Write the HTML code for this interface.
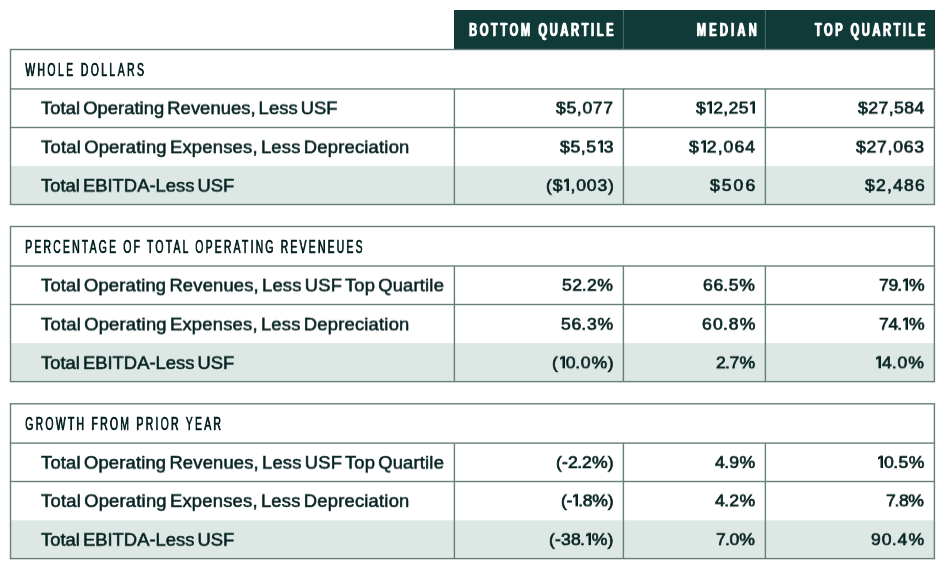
<!DOCTYPE html>
<html><head><meta charset="utf-8"><style>
html,body{margin:0;padding:0;background:#fff;width:945px;height:570px;overflow:hidden}
body{position:relative;font-family:"Liberation Sans",sans-serif;color:#062221}
div{position:absolute;white-space:nowrap}
.lab{font-size:17.5px;line-height:18px;transform-origin:0 9px;letter-spacing:0px;word-spacing:-2px;-webkit-text-stroke:0.55px currentColor}
.num{font-size:17.6px;line-height:18px;transform-origin:100% 9px;margin-top:1px;-webkit-text-stroke:0.7px currentColor}
.sh{font-size:19px;line-height:18px;transform-origin:0 0;transform:scaleX(0.55);letter-spacing:4.3px;-webkit-text-stroke:0.35px currentColor;text-shadow:0.9px 0 0 currentColor}
.ch{color:#fff;font-size:17.5px;line-height:18px;font-weight:700;transform-origin:100% 0;transform:scaleX(0.64);letter-spacing:4px;margin-right:-4px;-webkit-text-stroke:0.4px #fff;text-shadow:1.3px 0 0 #fff}
.one{display:inline-block;vertical-align:-0.3px;margin:0 1px 0 1px}
.d{margin:0 -0.2px 0 -0.9px}
.lab,.num,.sh,.ch{will-change:transform}
</style></head><body>
<svg width="945" height="570" style="position:absolute;left:0;top:0"><rect x="454" y="10" width="481" height="39" fill="#0f3a38"/><rect x="622.9" y="10" width="1.0" height="39" fill="#4d6f6c"/><rect x="764.9" y="10" width="1.0" height="39" fill="#4d6f6c"/><rect x="10.5" y="166.0" width="923.9" height="38.5" fill="#dde8e4"/><rect x="9.8" y="48.8" width="925.3" height="1.4" fill="#667f7d"/><rect x="9.8" y="88.25" width="925.3" height="1.4" fill="#667f7d"/><rect x="9.8" y="126.8" width="925.3" height="1.4" fill="#667f7d"/><rect x="9.8" y="203.8" width="925.3" height="1.4" fill="#667f7d"/><rect x="9.8" y="49.5" width="1.4" height="155.0" fill="#667f7d"/><rect x="933.7" y="49.5" width="1.4" height="155.0" fill="#667f7d"/><rect x="453.7" y="88.95" width="1.4" height="115.55" fill="#667f7d"/><rect x="622.7" y="88.95" width="1.4" height="115.55" fill="#667f7d"/><rect x="764.7" y="88.95" width="1.4" height="115.55" fill="#667f7d"/><rect x="10.5" y="343.1" width="923.9" height="38.5" fill="#dde8e4"/><rect x="9.8" y="225.8" width="925.3" height="1.4" fill="#667f7d"/><rect x="9.8" y="265.3" width="925.3" height="1.4" fill="#667f7d"/><rect x="9.8" y="303.8" width="925.3" height="1.4" fill="#667f7d"/><rect x="9.8" y="380.9" width="925.3" height="1.4" fill="#667f7d"/><rect x="9.8" y="226.5" width="1.4" height="155.1" fill="#667f7d"/><rect x="933.7" y="226.5" width="1.4" height="155.1" fill="#667f7d"/><rect x="453.7" y="266.0" width="1.4" height="115.6" fill="#667f7d"/><rect x="622.7" y="266.0" width="1.4" height="115.6" fill="#667f7d"/><rect x="764.7" y="266.0" width="1.4" height="115.6" fill="#667f7d"/><rect x="10.5" y="520.3" width="923.9" height="38.3" fill="#dde8e4"/><rect x="9.8" y="403.1" width="925.3" height="1.4" fill="#667f7d"/><rect x="9.8" y="442.4" width="925.3" height="1.4" fill="#667f7d"/><rect x="9.8" y="480.8" width="925.3" height="1.4" fill="#667f7d"/><rect x="9.8" y="557.9" width="925.3" height="1.4" fill="#667f7d"/><rect x="9.8" y="403.8" width="1.4" height="154.8" fill="#667f7d"/><rect x="933.7" y="403.8" width="1.4" height="154.8" fill="#667f7d"/><rect x="453.7" y="443.1" width="1.4" height="115.5" fill="#667f7d"/><rect x="622.7" y="443.1" width="1.4" height="115.5" fill="#667f7d"/><rect x="764.7" y="443.1" width="1.4" height="115.5" fill="#667f7d"/></svg>
<div class="ch" style="right:332.5px;top:21px;letter-spacing:4.0px;margin-right:-3.0px">BOTTOM QUARTILE</div>
<div class="ch" style="right:190.5px;top:21px;letter-spacing:4.9px;margin-right:-5.4px">MEDIAN</div>
<div class="ch" style="right:21.5px;top:21px;letter-spacing:3.9px;margin-right:-3.6px">TOP QUARTILE</div>
<div class="sh" style="left:24.8px;top:61px;letter-spacing:4.356px">WHOLE DOLLARS</div>
<div class="lab" style="left:41px;top:98.8px;transform:translateY(0.3px) scale(1.05,0.965);letter-spacing:0.044px">Total Operating Revenues, Less USF</div>
<div class="num" style="right:331.5px;top:98.8px;transform:translateY(-0.95px) scaleY(0.91);letter-spacing:0.64px;margin-right:-0.64px">$5,077</div>
<div class="num" style="right:189.5px;top:98.8px;transform:translateY(-0.95px) scaleY(0.91);letter-spacing:0.38px;margin-right:-0.38px">$<svg class="one" width="5" height="14" viewBox="0 0 5 14"><path d="M2.5 0.4H5V14H2.5V3.2L0 4.8V2.3L2.3 0.4Z" fill="currentColor"/></svg>2,25<svg class="one" width="5" height="14" viewBox="0 0 5 14"><path d="M2.5 0.4H5V14H2.5V3.2L0 4.8V2.3L2.3 0.4Z" fill="currentColor"/></svg></div>
<div class="num" style="right:20.5px;top:98.8px;transform:translateY(-0.95px) scaleY(0.91);letter-spacing:0.45px;margin-right:-0.45px">$27,584</div>
<div class="lab" style="left:41px;top:137.8px;transform:translateY(0.3px) scale(1.05,0.965);letter-spacing:0.203px">Total Operating Expenses, Less Depreciation</div>
<div class="num" style="right:331.5px;top:137.8px;transform:translateY(-0.95px) scaleY(0.91);letter-spacing:0.6px;margin-right:-0.6px">$5,5<svg class="one" width="5" height="14" viewBox="0 0 5 14"><path d="M2.5 0.4H5V14H2.5V3.2L0 4.8V2.3L2.3 0.4Z" fill="currentColor"/></svg>3</div>
<div class="num" style="right:189.5px;top:137.8px;transform:translateY(-0.95px) scaleY(0.91);letter-spacing:1.05px;margin-right:-1.05px">$<svg class="one" width="5" height="14" viewBox="0 0 5 14"><path d="M2.5 0.4H5V14H2.5V3.2L0 4.8V2.3L2.3 0.4Z" fill="currentColor"/></svg>2,064</div>
<div class="num" style="right:20.5px;top:137.8px;transform:translateY(-0.95px) scaleY(0.91);letter-spacing:0.75px;margin-right:-0.75px">$27,063</div>
<div class="lab" style="left:41px;top:176.8px;transform:translateY(-0.2px) scale(1.05,0.965);letter-spacing:0.013px">Total EBITDA-Less USF</div>
<div class="num" style="right:331.5px;top:176.8px;transform:translateY(-1.45px) scaleY(0.91);letter-spacing:0.87px;margin-right:-0.87px">($<svg class="one" width="5" height="14" viewBox="0 0 5 14"><path d="M2.5 0.4H5V14H2.5V3.2L0 4.8V2.3L2.3 0.4Z" fill="currentColor"/></svg>,003)</div>
<div class="num" style="right:189.5px;top:176.8px;transform:translateY(-1.45px) scaleY(0.91);letter-spacing:2.01px;margin-right:-2.01px">$506</div>
<div class="num" style="right:20.5px;top:176.8px;transform:translateY(-1.45px) scaleY(0.91);letter-spacing:1.2px;margin-right:-1.2px">$2,486</div>
<div class="sh" style="left:24.8px;top:238px;letter-spacing:3.953px">PERCENTAGE OF TOTAL OPERATING REVENEUES</div>
<div class="lab" style="left:41px;top:275.8px;transform:translateY(0.5px) scale(1.05,0.965);letter-spacing:0.17px">Total Operating Revenues, Less USF Top Quartile</div>
<div class="num" style="right:331.5px;top:275.8px;transform:translateY(-0.75px) scaleY(0.91);letter-spacing:0.5px;margin-right:0.5px">52<span class="d">.</span>2%</div>
<div class="num" style="right:189.5px;top:275.8px;transform:translateY(-0.75px) scaleY(0.91);letter-spacing:0.75px;margin-right:0.25px">66<span class="d">.</span>5%</div>
<div class="num" style="right:20.5px;top:275.8px;transform:translateY(-0.75px) scaleY(0.91);letter-spacing:-0.16px;margin-right:0.16px">79<span class="d">.</span><svg class="one" width="5" height="14" viewBox="0 0 5 14"><path d="M2.5 0.4H5V14H2.5V3.2L0 4.8V2.3L2.3 0.4Z" fill="currentColor"/></svg>%</div>
<div class="lab" style="left:41px;top:314.8px;transform:translateY(0.5px) scale(1.05,0.965);letter-spacing:0.203px">Total Operating Expenses, Less Depreciation</div>
<div class="num" style="right:331.5px;top:314.8px;transform:translateY(-0.75px) scaleY(0.91);letter-spacing:0.84px;margin-right:-0.84px">56<span class="d">.</span>3%</div>
<div class="num" style="right:189.5px;top:314.8px;transform:translateY(-0.75px) scaleY(0.91);letter-spacing:1.15px;margin-right:-1.15px">60<span class="d">.</span>8%</div>
<div class="num" style="right:20.5px;top:314.8px;transform:translateY(-0.75px) scaleY(0.91);letter-spacing:-0.16px;margin-right:0.16px">74<span class="d">.</span><svg class="one" width="5" height="14" viewBox="0 0 5 14"><path d="M2.5 0.4H5V14H2.5V3.2L0 4.8V2.3L2.3 0.4Z" fill="currentColor"/></svg>%</div>
<div class="lab" style="left:41px;top:353.8px;transform:translateY(0.1px) scale(1.05,0.965);letter-spacing:0.013px">Total EBITDA-Less USF</div>
<div class="num" style="right:331.5px;top:353.8px;transform:translateY(-1.15px) scaleY(0.91);letter-spacing:0.78px;margin-right:-0.78px">(<svg class="one" width="5" height="14" viewBox="0 0 5 14"><path d="M2.5 0.4H5V14H2.5V3.2L0 4.8V2.3L2.3 0.4Z" fill="currentColor"/></svg>0<span class="d">.</span>0%)</div>
<div class="num" style="right:189.5px;top:353.8px;transform:translateY(-1.15px) scaleY(0.91);letter-spacing:0.0px;margin-right:0.0px">2<span class="d">.</span>7%</div>
<div class="num" style="right:20.5px;top:353.8px;transform:translateY(-1.15px) scaleY(0.91);letter-spacing:0.91px;margin-right:0.09px"><svg class="one" width="5" height="14" viewBox="0 0 5 14"><path d="M2.5 0.4H5V14H2.5V3.2L0 4.8V2.3L2.3 0.4Z" fill="currentColor"/></svg>4<span class="d">.</span>0%</div>
<div class="sh" style="left:24.8px;top:415px;letter-spacing:4.101px">GROWTH FROM PRIOR YEAR</div>
<div class="lab" style="left:41px;top:453.8px;transform:translateY(-0.2px) scale(1.05,0.965);letter-spacing:0.17px">Total Operating Revenues, Less USF Top Quartile</div>
<div class="num" style="right:331.5px;top:453.8px;transform:translateY(-1.45px) scaleY(0.91);letter-spacing:0.18px;margin-right:-0.18px">(-2<span class="d">.</span>2%)</div>
<div class="num" style="right:189.5px;top:453.8px;transform:translateY(-1.45px) scaleY(0.91);letter-spacing:0.37px;margin-right:-0.37px">4<span class="d">.</span>9%</div>
<div class="num" style="right:20.5px;top:453.8px;transform:translateY(-1.45px) scaleY(0.91);letter-spacing:0.45px;margin-right:-0.45px"><svg class="one" width="5" height="14" viewBox="0 0 5 14"><path d="M2.5 0.4H5V14H2.5V3.2L0 4.8V2.3L2.3 0.4Z" fill="currentColor"/></svg>0<span class="d">.</span>5%</div>
<div class="lab" style="left:41px;top:491.8px;transform:translateY(0.1px) scale(1.05,0.965);letter-spacing:0.203px">Total Operating Expenses, Less Depreciation</div>
<div class="num" style="right:331.5px;top:491.8px;transform:translateY(-1.15px) scaleY(0.91);letter-spacing:-0.24px;margin-right:0.24px">(-<svg class="one" width="5" height="14" viewBox="0 0 5 14"><path d="M2.5 0.4H5V14H2.5V3.2L0 4.8V2.3L2.3 0.4Z" fill="currentColor"/></svg><span class="d">.</span>8%)</div>
<div class="num" style="right:189.5px;top:491.8px;transform:translateY(-1.15px) scaleY(0.91);letter-spacing:0.37px;margin-right:-0.37px">4<span class="d">.</span>2%</div>
<div class="num" style="right:20.5px;top:491.8px;transform:translateY(-1.15px) scaleY(0.91);letter-spacing:-0.36px;margin-right:1.36px">7<span class="d">.</span>8%</div>
<div class="lab" style="left:41px;top:530.8px;transform:translateY(-0.1px) scale(1.05,0.965);letter-spacing:0.013px">Total EBITDA-Less USF</div>
<div class="num" style="right:331.5px;top:530.8px;transform:translateY(-1.35px) scaleY(0.91);letter-spacing:0.14px;margin-right:-0.14px">(-38<span class="d">.</span><svg class="one" width="5" height="14" viewBox="0 0 5 14"><path d="M2.5 0.4H5V14H2.5V3.2L0 4.8V2.3L2.3 0.4Z" fill="currentColor"/></svg>%)</div>
<div class="num" style="right:189.5px;top:530.8px;transform:translateY(-1.35px) scaleY(0.91);letter-spacing:-0.01px;margin-right:0.01px">7<span class="d">.</span>0%</div>
<div class="num" style="right:20.5px;top:530.8px;transform:translateY(-1.35px) scaleY(0.91);letter-spacing:1.05px;margin-right:-1.05px">90<span class="d">.</span>4%</div>
</body></html>
